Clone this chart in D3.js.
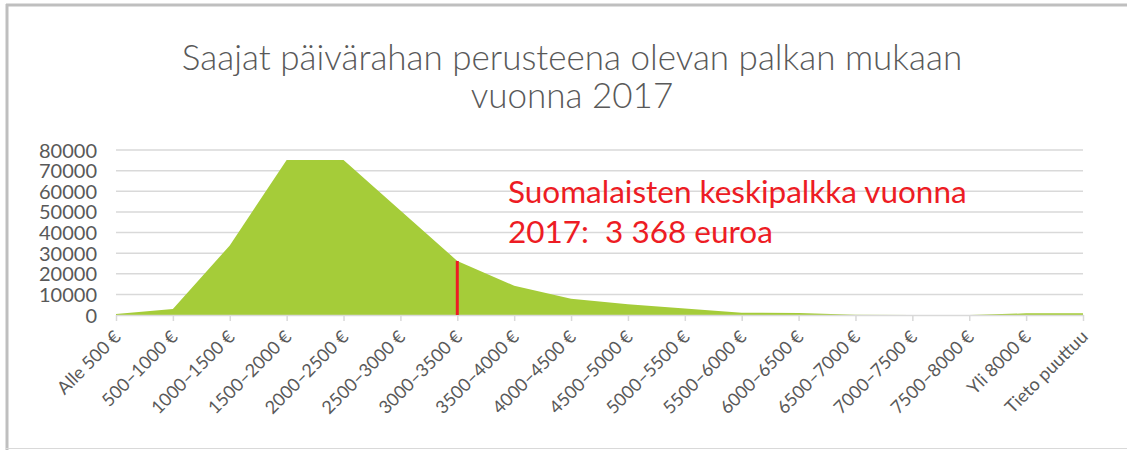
<!DOCTYPE html>
<html>
<head>
<meta charset="utf-8">
<script src="https://cdn.jsdelivr.net/npm/d3@7"></script>
<style>
  body { margin: 0; background: #fff; }
  text { font-family: Lato, "Open Sans", sans-serif; }
</style>
</head>
<body>
<svg id="chart" width="1127" height="450"></svg>
<script>
// Recipients by the salary behind the daily allowance, 2017 (area chart).

const categories = [
  "Alle 500 €", "500–1000 €", "1000–1500 €", "1500–2000 €", "2000–2500 €",
  "2500–3000 €", "3000–3500 €", "3500–4000 €", "4000–4500 €", "4500–5000 €",
  "5000–5500 €", "5500–6000 €", "6000–6500 €", "6500–7000 €", "7000–7500 €",
  "7500–8000 €", "Yli 8000 €", "Tieto puuttuu"
];
const recipients = [
  500, 2900, 33700, 75200, 75200, 50700, 26200, 14200, 7900, 5200,
  3200, 1100, 1000, 100, 0, 0, 800, 800
];
const yTicks = [0, 10000, 20000, 30000, 40000, 50000, 60000, 70000, 80000];
const titleLines = ["Saajat päivärahan perusteena olevan palkan mukaan", "vuonna 2017"];
const noteLines = ["Suomalaisten keskipalkka vuonna", "2017:  3 368 euroa"];
const markerCategory = "3000–3500 €";

const svg = d3.select("#chart");
const width = +svg.attr("width");
const height = +svg.attr("height");

const margin = { top: 150, right: 44, bottom: 135, left: 116 };
const innerWidth = width - margin.left - margin.right;
const innerHeight = height - margin.top - margin.bottom;

const grey = "#595959";

// frame around the chart
svg.append("line").attr("x1", 7).attr("x2", 7).attr("y1", 4).attr("y2", height)
  .attr("stroke", "#bfbfbf").attr("stroke-width", 3);
svg.append("line").attr("x1", 6).attr("x2", width).attr("y1", 5).attr("y2", 5)
  .attr("stroke", "#bfbfbf").attr("stroke-width", 3);
svg.append("line").attr("x1", 6).attr("x2", width).attr("y1", 448.5).attr("y2", 448.5)
  .attr("stroke", "#d9d9d9").attr("stroke-width", 1);

svg.append("g")
  .selectAll("text")
  .data(titleLines)
  .join("text")
  .attr("x", 572)
  .attr("y", (d, i) => 70 + i * 38)
  .attr("text-anchor", "middle")
  .attr("fill", grey)
  .attr("font-size", 35)
  .attr("font-weight", 300)
  .text(d => d);

const g = svg.append("g")
  .attr("transform", `translate(${margin.left},${margin.top})`);

const x = d3.scalePoint()
  .domain(categories)
  .range([0, innerWidth]);

const y = d3.scaleLinear()
  .domain([0, 80000])
  .range([innerHeight, 0]);

g.append("g").attr("class", "grid")
  .selectAll("line")
  .data(yTicks.filter(d => d > 0))
  .join("line")
  .attr("x1", 0)
  .attr("x2", innerWidth)
  .attr("y1", d => y(d))
  .attr("y2", d => y(d))
  .attr("stroke", "#d9d9d9")
  .attr("stroke-width", 1.5);

const area = d3.area()
  .x((d, i) => x(categories[i]))
  .y0(y(0))
  .y1(d => y(d));

g.append("path")
  .datum(recipients)
  .attr("d", area)
  .attr("fill", "#a5cc39");

// x axis: points sit on tick marks
g.append("g")
  .attr("transform", `translate(0,${innerHeight})`)
  .call(d3.axisBottom(x).tickSize(6).tickSizeOuter(0).tickFormat(""))
  .call(axis => {
    axis.selectAll(".domain, .tick line").attr("stroke", "#d9d9d9").attr("stroke-width", 1.5);
  });

g.append("g").attr("class", "x-labels")
  .selectAll("text")
  .data(categories)
  .join("text")
  .attr("transform", d => `translate(${x(d) + 6},${innerHeight + 23}) rotate(-45)`)
  .attr("text-anchor", "end")
  .attr("fill", grey)
  .attr("font-size", 18)
  .text(d => d);

g.append("g")
  .call(d3.axisLeft(y).tickValues(yTicks).tickSize(0).tickPadding(19).tickFormat(d3.format("d")))
  .call(axis => {
    axis.select(".domain").remove();
    axis.selectAll("text").attr("fill", grey).attr("font-size", 20)
      .attr("font-family", "Lato, sans-serif").attr("dy", "0.35em");
  });

// average-salary marker
const mi = categories.indexOf(markerCategory);
g.append("line")
  .attr("x1", x(markerCategory))
  .attr("x2", x(markerCategory))
  .attr("y1", y(0))
  .attr("y2", y(recipients[mi]))
  .attr("stroke", "#ed1c24")
  .attr("stroke-width", 3);

g.append("g")
  .selectAll("text")
  .data(noteLines)
  .join("text")
  .attr("x", 508 - margin.left)
  .attr("y", (d, i) => 203 - margin.top + i * 40)
  .attr("fill", "#ed1c24")
  .attr("font-family", "'Open Sans', sans-serif")
  .attr("font-size", 31.5)
  .style("white-space", "pre")
  .text(d => d);
</script>
</body>
</html>
